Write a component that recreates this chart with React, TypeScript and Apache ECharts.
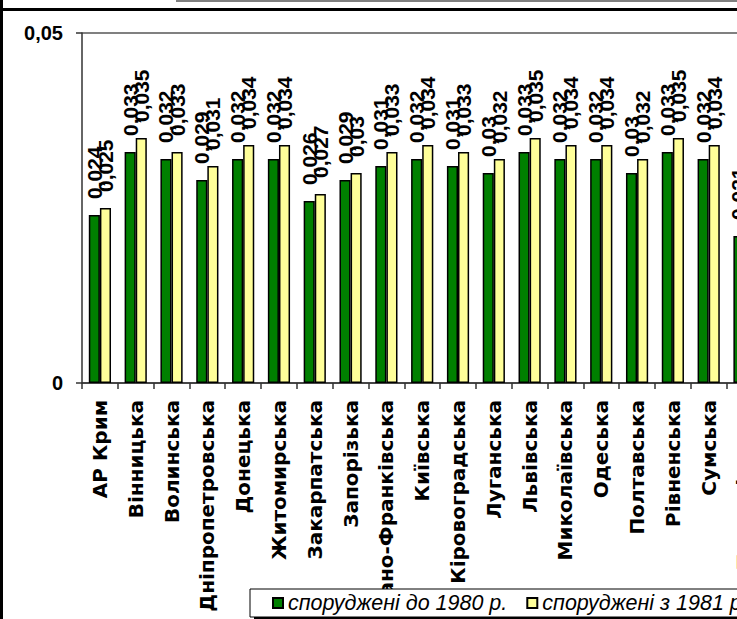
import React, { useEffect, useRef } from 'react';
import * as echarts from 'echarts';

const categories = [
  'АР Крим', 'Вінницька', 'Волинська', 'Дніпропетровська', 'Донецька', 'Житомирська',
  'Закарпатська', 'Запорізька', 'Івано-Франківська', 'Київська', 'Кіровоградська', 'Луганська',
  'Львівська', 'Миколаївська', 'Одеська', 'Полтавська', 'Рівненська', 'Сумська', 'Тернопільська',
];
const before1980 = [
  0.024, 0.033, 0.032, 0.029, 0.032, 0.032, 0.026, 0.029, 0.031, 0.032,
  0.031, 0.03, 0.033, 0.032, 0.032, 0.03, 0.033, 0.032, 0.021,
];
const since1981 = [
  0.025, 0.035, 0.033, 0.031, 0.034, 0.034, 0.027, 0.03, 0.033, 0.034,
  0.033, 0.032, 0.035, 0.034, 0.034, 0.032, 0.035, 0.034, null,
];
const seriesNames = ['споруджені до 1980 р.', 'споруджені з 1981 р.'];
const yMin = 0;
const yMax = 0.05;
const yInterval = 0.05;

const FONT = '"Liberation Sans", Arial, sans-serif';
const WIDE = '"DejaVu Sans", "Liberation Sans", sans-serif';

const fmt = (v: number) => (v === 0 ? '0' : String(v).replace('.', ','));

export default function App() {
  const ref = useRef<HTMLDivElement>(null);
  useEffect(() => {
    if (!ref.current) return;
    const chart = echarts.init(ref.current, null, { renderer: 'svg' });
    const label = {
      show: true,
      position: 'top',
      rotate: 90,
      align: 'left',
      verticalAlign: 'middle',
      distance: 16,
      fontSize: 21,
      fontWeight: 'bold',
      fontFamily: FONT,
      color: '#000',
      formatter: (p: any) => fmt(p.value),
    };
    chart.setOption({
      animation: false,
      backgroundColor: '#fff',
      textStyle: { fontFamily: FONT },
      grid: { left: 82, top: 33, width: 680.4, height: 350, containLabel: false, outerBoundsMode: 'none' },
      legend: {
        left: 250,
        top: 589,
        padding: [3, 10, 3, 22],
        backgroundColor: '#fff',
        borderColor: '#000',
        borderWidth: 1,
        icon: 'rect',
        itemWidth: 10,
        itemHeight: 10,
        itemGap: 19,
        z: 5,
        textStyle: { fontSize: 21.5, fontStyle: 'italic', fontFamily: FONT, color: '#000' },
        data: seriesNames,
      },
      xAxis: {
        type: 'category',
        data: categories,
        axisLine: { lineStyle: { color: '#333', width: 1.5 } },
        axisTick: { show: true, length: 6, lineStyle: { color: '#333', width: 1.5 } },
        axisLabel: {
          interval: 0,
          rotate: 90,
          margin: 17,
          fontSize: 20,
          fontWeight: 'bold',
          fontFamily: WIDE,
          color: '#000',
        },
      },
      yAxis: {
        type: 'value',
        min: yMin,
        max: yMax,
        interval: yInterval,
        axisLine: { show: true, lineStyle: { color: '#333', width: 1.5 } },
        axisTick: { show: true, length: 6, lineStyle: { color: '#333', width: 1.5 } },
        splitLine: { show: true, lineStyle: { color: '#808080', width: 2 } },
        axisLabel: {
          margin: 19,
          fontSize: 20,
          fontWeight: 'bold',
          fontFamily: FONT,
          color: '#000',
          formatter: (v: number) => fmt(v),
        },
      },
      series: [
        {
          name: seriesNames[0],
          type: 'bar',
          data: before1980,
          barGap: '0%',
          barCategoryGap: '38%',
          itemStyle: { color: '#008000', borderColor: '#000', borderWidth: 1.5 },
          label,
        },
        {
          name: seriesNames[1],
          type: 'bar',
          data: since1981,
          itemStyle: { color: '#FFFF99', borderColor: '#000', borderWidth: 1.5 },
          label,
        },
      ],
      graphic: [
        { type: 'rect', z: 3, shape: { x: 254, y: 594, width: 800, height: 40 }, style: { fill: '#000' } },
        { type: 'rect', z: 10, shape: { x: 176, y: 0, width: 900, height: 2 }, style: { fill: '#808080' } },
        { type: 'rect', z: 10, shape: { x: 0, y: 8, width: 1100, height: 3 }, style: { fill: '#000' } },
        { type: 'rect', z: 10, shape: { x: 0, y: 0, width: 3, height: 619 }, style: { fill: '#000' } },
      ],
    });
    return () => chart.dispose();
  }, []);
  return (
    <div style={{ position: 'fixed', left: 0, top: 0, width: 737, height: 619, overflow: 'hidden', background: '#fff' }}>
      <div ref={ref} style={{ width: 1000, height: 619 }} />
    </div>
  );
}
